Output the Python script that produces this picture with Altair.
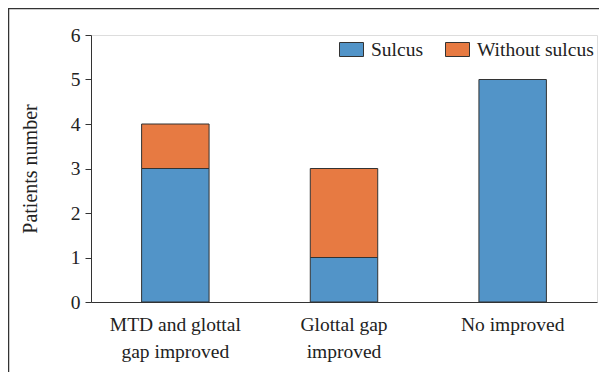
import altair as alt
import pandas as pd

# ---- data ----
label_lines = [["MTD and glottal", "gap improved"], ["Glottal gap", "improved"], ["No improved"]]
sulcus = [3, 1, 5]
without_sulcus = [1, 2, 0]
series = ["Sulcus", "Without sulcus"]
colors = ["#5294C8", "#E77A42"]
y_ticks = [0, 1, 2, 3, 4, 5, 6]

categories = ["\n".join(l) for l in label_lines]
rows = []
for c, s, w in zip(categories, sulcus, without_sulcus):
    for k, (name, v) in enumerate(zip(series, [s, w])):
        if v > 0:
            rows.append({"group": c, "series": name, "value": v, "ord": k})
df = pd.DataFrame(rows)

FONT = "Liberation Serif"
FS = 19.5
W, H = 506, 267
PAD = {"left": 83, "top": 27, "right": 2, "bottom": 70}

bars = alt.Chart(df).mark_bar(stroke="#333333", strokeWidth=1).encode(
    x=alt.X("group:N", sort=categories,
            scale=alt.Scale(paddingInner=0.6, paddingOuter=0.3),
            axis=alt.Axis(title=None, labelAngle=0, labelExpr="split(datum.label, '\\n')",
                          labelFont=FONT, labelFontSize=FS, labelColor="#222222",
                          labelLineHeight=27, labelPadding=13, ticks=False,
                          domainColor="#333333", domainWidth=1)),
    y=alt.Y("value:Q", stack="zero",
            scale=alt.Scale(domain=[0, 6], nice=False),
            axis=alt.Axis(title="Patients number", values=y_ticks, grid=False,
                          labelFont=FONT, labelFontSize=FS, labelColor="#222222",
                          titleFont=FONT, titleFontSize=20, titleFontWeight="normal",
                          titleColor="#222222", titlePadding=30,
                          tickSize=6, tickColor="#333333", labelPadding=5,
                          domainColor="#333333", domainWidth=1)),
    color=alt.Color("series:N", scale=alt.Scale(domain=series, range=colors),
                    legend=alt.Legend(title=None, orient="none", legendX=250, legendY=4,
                                      direction="horizontal",
                                      symbolType="M-1.2,-0.7H1.2V0.7H-1.2Z", symbolSize=400,
                                      symbolStrokeColor="#333333", symbolStrokeWidth=1,
                                      labelFont=FONT, labelFontSize=FS, labelColor="#222222",
                                      labelOffset=9, columnPadding=19)),
    order=alt.Order("ord:Q", sort="ascending"),
)

frame_src = pd.DataFrame({"a": [0]})
top_line = alt.Chart(frame_src).mark_rule(color="#333333", strokeWidth=1.5).encode(
    x=alt.value(-PAD["left"]), x2=alt.value(W + PAD["right"]), y=alt.value(-PAD["top"] + 0.5))
left_line = alt.Chart(frame_src).mark_rule(color="#333333", strokeWidth=1.5).encode(
    x=alt.value(-PAD["left"] + 0.5), y=alt.value(-PAD["top"]), y2=alt.value(H + PAD["bottom"]))

chart = alt.layer(bars, top_line, left_line).properties(
    width=W, height=H,
    autosize=alt.AutoSizeParams(type="none"),
    padding=PAD,
).configure_view(stroke=None).configure(background="white")

chart.save("out.html", embed_options={"renderer": "svg", "actions": False})
